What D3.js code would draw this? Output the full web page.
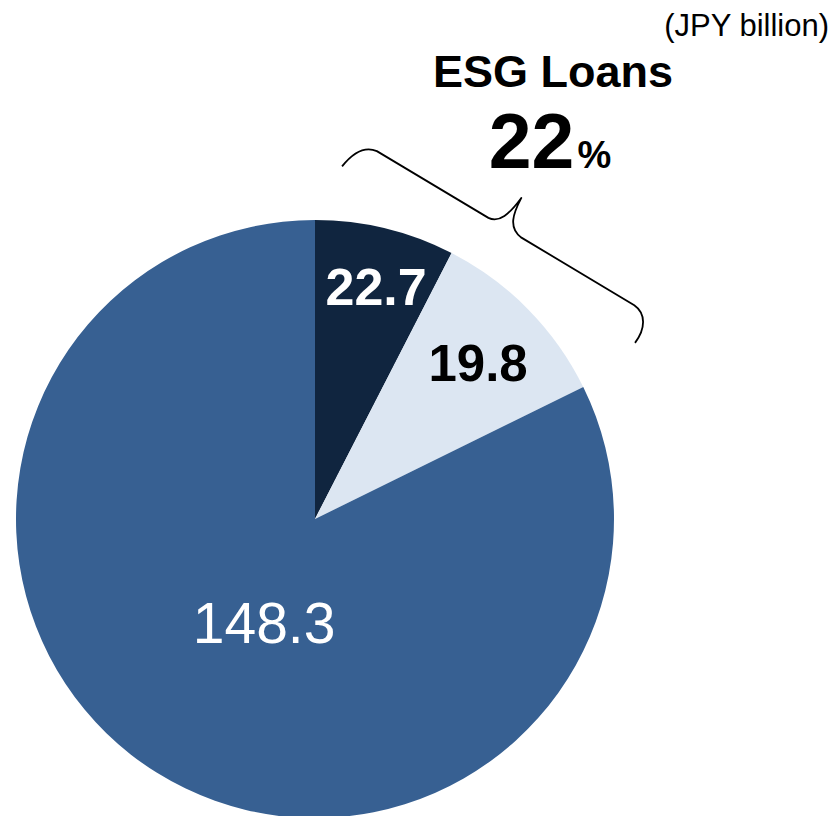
<!DOCTYPE html>
<html>
<head>
<meta charset="utf-8">
<script src="https://cdn.jsdelivr.net/npm/d3@7"></script>
<style>
  html, body { margin: 0; padding: 0; background: #ffffff; }
  svg { display: block; font-family: "Liberation Sans", Arial, sans-serif; }
</style>
</head>
<body>
<script>
// ---- data ----
const categories = ["ESG Loans A", "ESG Loans B", "Other Loans"];
const valueLabels = [22.7, 19.8, 148.3];          // printed values (JPY billion)
const sliceShares = [7.55, 10.17, 82.28];         // slice sizes as drawn in the reference (% of circle)
const colors = ["#10253f", "#dce6f2", "#376092"];
const labelColors = ["#ffffff", "#000000", "#ffffff"];
const labelWeights = ["bold", "bold", "normal"];
const unitLabel = "(JPY billion)";
const titleLabel = "ESG Loans";
const shareNumber = "22";
const shareUnit = "%";

const W = 832, H = 816;
const cx = 315, cy = 519, R = 299;

const svg = d3.select("body").append("svg")
  .attr("width", W).attr("height", H)
  .attr("viewBox", `0 0 ${W} ${H}`);

const data = categories.map((c, i) => ({
  cat: c, share: sliceShares[i], label: valueLabels[i],
  color: colors[i], lc: labelColors[i], lw: labelWeights[i]
}));

const pie = d3.pie().sort(null).value(d => d.share).startAngle(0).endAngle(2 * Math.PI);
const arcs = pie(data);
const arc = d3.arc().innerRadius(0).outerRadius(R);

const g = svg.append("g").attr("transform", `translate(${cx},${cy})`);
g.selectAll("path.slice").data(arcs).enter().append("path")
  .attr("class", "slice")
  .attr("d", arc)
  .attr("fill", d => d.data.color);

// labels
const labelRadius = [241, 226, 115];
const labelShiftDeg = [1.1, 0.7, -5.6];
const labelSize = [52, 51, 57];
const capHalf = 0.358; // half of cap height in em
g.selectAll("text.val").data(arcs).enter().append("text")
  .attr("class", "val")
  .attr("text-anchor", "middle")
  .attr("fill", d => d.data.lc)
  .attr("font-weight", d => d.data.lw)
  .attr("font-size", (d, i) => labelSize[i])
  .attr("x", (d, i) => {
    const a = (d.startAngle + d.endAngle) / 2 + labelShiftDeg[i] * Math.PI / 180;
    return labelRadius[i] * Math.sin(a);
  })
  .attr("y", (d, i) => {
    const a = (d.startAngle + d.endAngle) / 2 + labelShiftDeg[i] * Math.PI / 180;
    return -labelRadius[i] * Math.cos(a) + labelSize[i] * capHalf;
  })
  .text(d => d.data.label.toFixed(1));

// unit label
svg.append("text")
  .attr("x", 829).attr("y", 36)
  .attr("text-anchor", "end")
  .attr("font-size", 31)
  .attr("fill", "#000")
  .text(unitLabel);

// title
svg.append("text")
  .attr("x", 553).attr("y", 87)
  .attr("text-anchor", "middle")
  .attr("font-size", 45)
  .attr("font-weight", "bold")
  .attr("fill", "#000")
  .text(titleLabel);

const share = svg.append("text")
  .attr("x", 550).attr("y", 168)
  .attr("text-anchor", "middle")
  .attr("font-weight", "bold")
  .attr("fill", "#000");
share.append("tspan").attr("font-size", 77).text(shareNumber);
share.append("tspan").attr("font-size", 38).attr("dx", 3).text(shareUnit);

// brace annotation
const brace = "M -14,31 C -12,16 -6,2 8,0 L 138,0 C 150,-1 154,-14 156,-34 C 157,-16 160,-2 176,0 L 308,0 C 322,1 330,14 328,32";
svg.append("path")
  .attr("d", brace)
  .attr("transform", "translate(370,147) rotate(30.9)")
  .attr("fill", "none")
  .attr("stroke", "#000")
  .attr("stroke-width", 1.8)
  .attr("stroke-linejoin", "round");
</script>
</body>
</html>
